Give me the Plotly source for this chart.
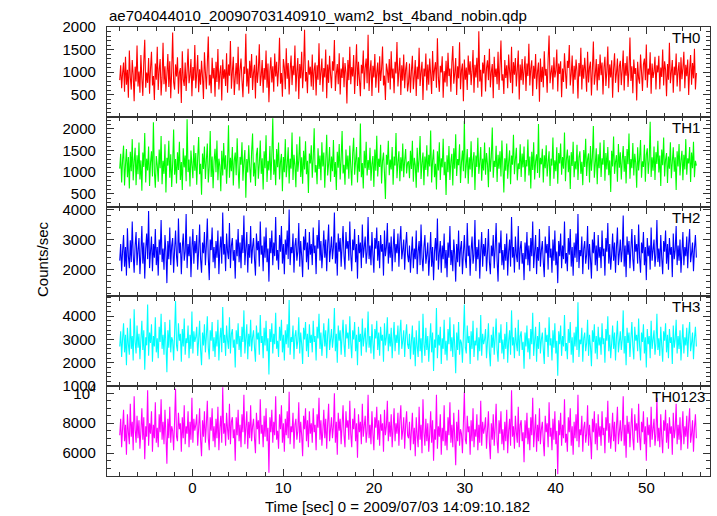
import numpy as np
import plotly.graph_objects as go
from plotly.subplots import make_subplots

TITLE = "ae704044010_20090703140910_wam2_bst_4band_nobin.qdp"
X_TITLE = "Time [sec] 0 = 2009/07/03 14:09:10.182"
Y_TITLE = "Counts/sec"
T_START = -8.0
T_END = 55.5

band_names = ["TH0", "TH1", "TH2", "TH3", "TH0123"]

th0 = [
    820, 1150, 640, 980, 1210, 560, 1340, 720, 1050, 430, 1480, 880, 610, 1270, 940, 350, 1120, 790, 1590, 680,
    1010, 540, 1380, 860, 470, 1230, 1720, 650, 990, 760, 1310, 520, 1080, 1450, 700, 910, 380, 1190, 830, 1560,
    600, 1040, 1290, 480, 870, 1650, 730, 1130, 560, 950, 1400, 670, 1240, 420, 1020, 1880, 780, 610, 1170, 900,
    1330, 520, 990, 1090, 310, 1460, 840, 690, 1210, 580, 1030, 1520, 750, 930, 1290, 460, 1110, 810, 1600, 640,
    970, 1380, 550, 1060, 720, 1250, 890, 400, 1440, 1000, 620, 1180, 1790, 700, 940, 530, 1320, 860, 1090, 450,
    1230, 780, 1510, 610, 980, 1150, 370, 1280, 850, 1060, 690, 1420, 540, 1170, 920, 1690, 630, 1010, 1340, 490,
    880, 1200, 730, 1560, 590, 1040, 1300, 820, 440, 1120, 960, 1850, 680, 1080, 520, 1250, 870, 1400, 600, 990,
    1160, 410, 1370, 760, 1030, 1620, 690, 920, 1270, 540, 1090, 830, 1480, 650, 1190, 330, 1010, 1330, 770, 1130,
    560, 1410, 900, 1230, 680, 1060, 1760, 740, 980, 450, 1290, 1100, 620, 1530, 850, 1200, 500, 1040, 1370, 710,
    1140, 930, 1590, 570, 1020, 1310, 400, 1180, 860, 1450, 640, 1070, 1940, 790, 1000, 530, 1260, 940, 1120, 680,
    1390, 600, 1050, 1210, 480, 1150, 830, 1640, 710, 990, 1300, 560, 1090, 880, 1500, 420, 1170, 760, 1360, 940,
    640, 1240, 1030, 1710, 580, 950, 1180, 730, 1420, 500, 1080, 870, 1330, 660, 1200, 990, 300, 1270, 820, 1560,
    730, 1110, 900, 1380, 510, 1050, 1620, 690, 1230, 840, 460, 1160, 970, 1480, 620, 1090, 1300, 750, 1830, 580,
    1020, 1260, 470, 1140, 880, 1400, 650, 990, 1210, 540, 1350, 800, 1070, 1570, 700, 920, 380, 1190, 1040, 760,
    1290, 610, 1460, 860, 1080, 530, 1230, 970, 1670, 680, 1010, 1320, 490, 1150, 810, 1390, 640, 1060, 1220, 570,
    760, 1190, 540, 1030, 1360, 620, 910, 1270, 470, 1120, 840, 1540, 690, 1000, 1230, 380, 1080, 900, 1410, 590,
    1170, 720, 1300, 950, 510, 1470, 800, 1060, 1220, 650, 1750, 870, 560, 1140, 990, 1350, 430, 1020, 770, 1250,
    680, 1430, 910, 1080, 560, 1200, 1580, 740, 980, 1310, 490, 1130, 860, 1660, 620, 1040, 1190, 350, 1280, 830,
    1100, 600, 1370, 940, 1240, 710, 1020, 1490, 540, 1160, 880, 1320, 650, 1910, 790, 1050, 450, 1210, 970, 1380,
    570, 1090, 1260, 820, 1520, 660, 1000, 1180, 420, 1340, 890, 1080, 730, 1450, 600, 1130, 1700, 810, 950, 510,
    1270, 870, 1150, 640, 1390, 1010, 760, 1560, 530, 1220, 940, 1310, 680, 1060, 1480, 390, 1170, 820, 1290, 720,
    1040, 1350, 580, 1190, 910, 1630, 700, 1080, 1260, 470, 1140, 850, 1400, 620, 1010, 1210, 340, 1300, 780, 1120,
    660, 1460, 920, 1070, 540, 1280, 1810, 750, 990, 1150, 610, 1330, 880, 1030, 1500, 570, 1190, 960, 1240, 440,
    1080, 780, 1420, 1000, 630, 1250, 1090, 1600, 700, 960, 1370, 520, 1140, 830, 1280, 1020, 410, 1200, 900, 1540,
    610, 1160, 850, 1320, 990, 560, 1450, 770, 1110, 1230, 480, 1060, 1680, 720, 940, 1290, 590, 1180, 820, 1390,
    930, 1210, 500, 1100, 1340, 690, 1020, 1570, 640, 1170, 880, 1260, 430, 1070, 1420, 760, 980, 1300, 550, 1130,
    1250, 710, 1060, 1480, 590, 1200, 920, 1350, 670, 1040, 1770, 800, 1130, 530, 1280, 960, 1090, 370, 1230, 860,
    740, 1390, 1010, 580, 1170, 1300, 820, 1610, 650, 1080, 940, 1440, 520, 1190, 870, 1020, 1340, 610, 1150, 990,
    1360, 620, 1100, 890, 1500, 700, 1240, 1050, 460, 1180, 830, 1650, 750, 1000, 1270, 540, 1120, 930, 1410, 680,
    1030, 1220, 570, 1330, 840, 1090, 1450, 640, 1160, 910, 1280, 490, 1070, 1380, 720, 1200, 860, 1520, 610, 980,
]

th1 = [
    1080, 1420, 760, 1290, 1610, 690, 1180, 1530, 880, 1350, 620, 1470, 1020, 1760, 810, 1240, 1560, 700, 1390, 950,
    1680, 830, 1270, 570, 1450, 1120, 1900, 760, 1310, 1040, 1590, 680, 1220, 1480, 900, 2150, 1010, 640, 1370, 1160,
    780, 1520, 1090, 1830, 720, 1260, 960, 1640, 530, 1330, 1150, 1720, 870, 1410, 660, 1200, 1980, 940, 1300, 740,
    1460, 1050, 1700, 820, 1230, 590, 1550, 1110, 1380, 790, 2220, 1000, 1290, 670, 1500, 1170, 860, 1620, 1030, 1440,
    710, 1340, 1810, 950, 1190, 480, 1430, 1070, 1590, 840, 1280, 1660, 760, 1120, 1950, 890, 1360, 630, 1250, 1540,
    1000, 1730, 810, 1310, 1140, 560, 1490, 920, 1670, 1060, 1390, 730, 1210, 2080, 870, 1330, 1020, 1580, 690, 1270,
    1450, 930, 1780, 1080, 620, 1350, 1170, 1690, 800, 1240, 1510, 410, 1300, 990, 1620, 1130, 760, 1470, 1890, 900,
    1220, 680, 1400, 1560, 850, 1190, 1730, 960, 1320, 600, 1480, 1090, 1850, 770, 1260, 1040, 1600, 820, 1370, 2240,
    940, 1290, 700, 1530, 1110, 1680, 830, 1230, 1420, 560, 1350, 1000, 1760, 880, 1180, 1570, 740, 1310, 1080, 1910,
    820, 1400, 1150, 650, 1640, 1010, 1280, 1820, 890, 1340, 730, 1490, 1060, 1710, 950, 1260, 520, 1430, 1200, 1620,
    870, 1320, 2010, 990, 1160, 720, 1550, 1070, 1380, 810, 1690, 1130, 1450, 640, 1270, 1860, 920, 1190, 1580, 780,
    1360, 1020, 1740, 890, 1230, 590, 1470, 1100, 1650, 830, 1300, 1950, 970, 1170, 710, 1520, 1060, 1380, 850, 1610,
    1140, 690, 1430, 1790, 940, 1250, 1580, 760, 1340, 1010, 2120, 880, 1210, 620, 1490, 1090, 1700, 920, 1280, 1050,
    1560, 800, 1190, 1370, 660, 1520, 1030, 1840, 900, 1310, 1120, 1630, 740, 1260, 1450, 980, 380, 1400, 1170, 1720,
    930, 1290, 1060, 1580, 710, 1360, 1150, 1900, 860, 1230, 1480, 790, 1340, 1020, 1660, 880, 1270, 1530, 970, 1210,
    1250, 860, 1490, 1070, 1720, 780, 1330, 1160, 640, 1560, 990, 1280, 1830, 840, 1210, 1450, 700, 1360, 1050, 1620,
    900, 1400, 1130, 1960, 760, 1270, 1520, 880, 1190, 600, 1480, 1040, 1690, 820, 1320, 1110, 1770, 930, 1240, 470,
    1390, 1000, 1600, 820, 1250, 1420, 690, 1550, 1080, 1870, 910, 1300, 1160, 1640, 750, 1230, 1500, 1020, 2180, 860,
    1170, 1530, 730, 1340, 1060, 1710, 880, 1270, 1460, 590, 1380, 1120, 1790, 960, 1220, 1580, 800, 1310, 1040, 1680,
    940, 1440, 1190, 650, 1570, 1010, 1350, 2030, 870, 1260, 1120, 1610, 770, 1400, 1080, 1480, 900, 1730, 1150, 530,
    1320, 1030, 1660, 850, 1240, 1500, 720, 1380, 1170, 1860, 950, 1290, 1560, 810, 1200, 1070, 1640, 890, 1430, 1110,
    1590, 780, 1280, 1130, 1750, 920, 1360, 620, 1470, 1050, 1690, 830, 1250, 1410, 980, 2110, 870, 1330, 1180, 1540,
    760, 1390, 1090, 1620, 900, 1230, 1480, 680, 1310, 1150, 1800, 850, 1270, 1020, 1570, 730, 1440, 1200, 1660, 940,
    1350, 1080, 1910, 790, 1290, 1520, 1000, 1380, 610, 1460, 1140, 1700, 880, 1250, 1060, 1630, 820, 1340, 1480, 960,
    1240, 700, 1510, 1120, 1770, 910, 1300, 1430, 760, 1600, 1030, 1350, 2060, 870, 1190, 1550, 720, 1410, 1090, 1680,
    890, 1320, 1170, 1740, 800, 1440, 1060, 1580, 930, 1270, 540, 1490, 1130, 1820, 960, 1230, 1390, 780, 1650, 1100,
    1460, 830, 1280, 1600, 1010, 1370, 740, 1530, 1180, 1890, 850, 1300, 1090, 1670, 920, 1420, 1210, 640, 1570, 1040,
    1310, 1740, 870, 1250, 1120, 1630, 780, 1400, 1550, 960, 1270, 2160, 890, 1340, 1030, 1590, 820, 1460, 1190, 1720,
    990, 1380, 680, 1520, 1160, 1800, 900, 1290, 1440, 750, 1360, 1080, 1690, 860, 1230, 1570, 1010, 1340, 590, 1480,
    1130, 1650, 920, 1270, 1490, 810, 1400, 1060, 1760, 940, 1320, 1200, 1580, 770, 1450, 1090, 1700, 880, 1260, 1150,
]

th2 = [
    2300, 2850, 1950, 2620, 3150, 2100, 2750, 1800, 3380, 2450, 2050, 2980, 2250, 3600, 2500, 1900, 2800, 3250, 2150, 2650,
    3050, 1850, 2550, 3450, 2200, 2900, 1700, 2700, 3200, 2350, 3950, 2050, 2600, 3100, 1950, 2850, 2400, 3350, 2150, 2750,
    1800, 3000, 2500, 3650, 2250, 2700, 2000, 3150, 2600, 1550, 2950, 2350, 3400, 2150, 2800, 3050, 1900, 2650, 3300, 2450,
    2100, 3700, 2550, 2900, 1850, 2750, 3200, 2300, 2600, 3850, 2050, 2850, 2450, 3100, 1750, 2700, 3350, 2200, 2950, 2550,
    3150, 2000, 2650, 3500, 2350, 1900, 2900, 2550, 3250, 2150, 2800, 3700, 2400, 1650, 3000, 2650, 3400, 2250, 2750, 2050,
    2950, 2400, 3300, 1850, 2700, 3100, 2200, 3900, 2500, 2850, 1950, 3200, 2600, 2350, 3550, 2050, 2800, 3050, 2300, 2650,
    1700, 3000, 2450, 3350, 2250, 2900, 2050, 3150, 2550, 3800, 2150, 2700, 3250, 1900, 2850, 2400, 3450, 2200, 2750, 3050,
    2350, 1800, 3200, 2650, 2950, 2100, 3600, 2500, 2800, 1950, 3100, 2400, 3400, 2250, 2700, 1600, 3050, 2550, 3300, 2150,
    2900, 2450, 3750, 2300, 2650, 2000, 3150, 2600, 3450, 2200, 2850, 1850, 3000, 2500, 3300, 2350, 4000, 2150, 2750, 2550,
    3200, 1900, 2800, 3050, 2300, 2600, 3550, 2100, 2950, 2450, 1750, 3100, 2650, 3350, 2250, 2900, 2000, 3250, 2500, 2850,
    2150, 3400, 2550, 2800, 1850, 3150, 2700, 3650, 2300, 2950, 2050, 2600, 3300, 2400, 3000, 1950, 2850, 3500, 2250, 2650,
    3100, 2350, 2750, 3900, 2200, 2900, 1800, 3200, 2600, 3050, 2100, 2800, 3450, 2450, 2000, 3250, 2700, 2950, 2300, 3600,
    2500, 1950, 3000, 2650, 3350, 2250, 2850, 1700, 3150, 2550, 2900, 2050, 3500, 2400, 2750, 3100, 2200, 2600, 3750, 2350,
    2800, 2150, 3250, 2500, 1900, 3050, 2700, 3400, 2300, 2950, 2050, 3150, 2600, 2850, 1800, 3300, 2450, 2750, 3550, 2200,
    2900, 2400, 3100, 1950, 2700, 3350, 2250, 2850, 2550, 3200, 2100, 2950, 3450, 2350, 2650, 3000, 2000, 2800, 3250, 2500,
    2250, 2800, 1900, 2550, 3100, 2050, 2700, 2350, 3300, 1850, 2600, 2950, 2150, 3500, 2400, 1950, 2750, 3150, 2200, 2500,
    2900, 1800, 2450, 3250, 2100, 2750, 1650, 2600, 3050, 2300, 3700, 2000, 2550, 2950, 1900, 2800, 2350, 3200, 2050, 2650,
    1750, 2900, 2400, 3450, 2150, 2650, 1950, 3000, 2500, 1600, 2850, 2250, 3300, 2100, 2700, 2950, 1850, 2550, 3150, 2350,
    2050, 3550, 2450, 2800, 1800, 2650, 3100, 2200, 2500, 3650, 1950, 2750, 2350, 3000, 1700, 2600, 3250, 2100, 2850, 2450,
    3050, 1950, 2550, 3350, 2250, 1850, 2800, 2450, 3150, 2050, 2700, 3550, 2300, 1600, 2900, 2550, 3300, 2150, 2650, 2000,
    2850, 2300, 3200, 1800, 2600, 3000, 2100, 3750, 2400, 2750, 1900, 3100, 2500, 2250, 3450, 2000, 2700, 2950, 2200, 2550,
    1650, 2900, 2350, 3250, 2150, 2800, 1950, 3050, 2450, 3600, 2050, 2600, 3150, 1850, 2750, 2300, 3350, 2100, 2650, 2950,
    2250, 1750, 3100, 2550, 2850, 2000, 3450, 2400, 2700, 1900, 3000, 2300, 3300, 2150, 2600, 1550, 2950, 2450, 3200, 2050,
    2800, 2350, 3600, 2200, 2550, 1950, 3050, 2500, 3350, 2100, 2750, 1800, 2900, 2400, 3200, 2250, 3850, 2050, 2650, 2450,
    3100, 1850, 2700, 2950, 2200, 2500, 3450, 2000, 2850, 2350, 1700, 3000, 2550, 3250, 2150, 2800, 1950, 3150, 2400, 2750,
    2050, 3300, 2450, 2700, 1800, 3050, 2600, 3550, 2200, 2850, 2000, 2500, 3200, 2300, 2900, 1900, 2750, 3400, 2150, 2550,
    3000, 2250, 2650, 3800, 2100, 2800, 1750, 3100, 2500, 2950, 2050, 2700, 3350, 2350, 1950, 3150, 2600, 2850, 2200, 3500,
    2400, 1900, 2900, 2550, 3250, 2150, 2750, 1650, 3050, 2450, 2800, 2000, 3400, 2300, 2650, 3000, 2100, 2500, 3650, 2250,
    2700, 2100, 3150, 2400, 1850, 2950, 2600, 3300, 2200, 2850, 2000, 3050, 2500, 2750, 1750, 3200, 2350, 2650, 3450, 2150,
    2800, 2300, 3000, 1900, 2600, 3250, 2150, 2750, 2450, 3100, 2050, 2850, 3350, 2250, 2550, 2900, 1950, 2700, 3150, 2400,
]

th3 = [
    2700, 3350, 2250, 3050, 3700, 2450, 3200, 1900, 3500, 2800, 2350, 3900, 2600, 3150, 2100, 4300, 2900, 2400, 3600, 2650,
    3250, 2150, 3000, 3800, 2550, 3400, 1700, 3100, 2750, 4500, 2300, 3300, 2850, 3650, 2050, 3150, 2700, 3950, 2450, 3050,
    2200, 3550, 2900, 4100, 2600, 3200, 2350, 3750, 2800, 1600, 3400, 2650, 3850, 2450, 3100, 2950, 2100, 3300, 4650, 2750,
    2500, 3700, 2950, 3250, 2050, 3450, 2700, 3900, 2350, 3050, 2850, 3600, 2200, 3200, 2600, 4200, 2400, 3350, 2900, 3100,
    3550, 2300, 3000, 3800, 2550, 1900, 3300, 2750, 3650, 2450, 3150, 4000, 2650, 2150, 3400, 2950, 3750, 2500, 3100, 2250,
    3350, 2700, 3850, 2100, 3050, 3500, 2450, 4400, 2850, 3200, 2300, 3600, 2950, 2600, 3950, 2400, 3250, 3450, 2650, 3000,
    1800, 3400, 2800, 3700, 2550, 3150, 2250, 3550, 2900, 4250, 2400, 3050, 3650, 2150, 3250, 2700, 3850, 2500, 3100, 3400,
    2650, 2050, 3600, 3000, 3300, 2350, 4050, 2850, 3150, 2200, 3500, 2750, 3800, 2500, 3050, 1500, 3450, 2900, 3700, 2400,
    3250, 2800, 4150, 2600, 2950, 2250, 3550, 2950, 3850, 2450, 3200, 2100, 3400, 2800, 3650, 2650, 4700, 2350, 3100, 2900,
    3600, 2150, 3150, 3400, 2600, 2950, 3950, 2400, 3300, 2800, 1950, 3500, 3000, 3750, 2500, 3250, 2250, 3650, 2850, 3200,
    2450, 3800, 2900, 3150, 2100, 3550, 3050, 4100, 2600, 3300, 2300, 2950, 3700, 2700, 3400, 2200, 3200, 3900, 2550, 3000,
    3450, 2650, 3100, 4350, 2500, 3250, 2000, 3600, 2950, 3400, 2350, 3150, 3850, 2800, 2250, 3650, 3050, 3300, 2600, 4000,
    2850, 2200, 3400, 3000, 3750, 2500, 3200, 1900, 3550, 2900, 3250, 2300, 3900, 2700, 3100, 3500, 2450, 2950, 4200, 2650,
    3150, 2400, 3650, 2850, 2150, 3450, 3050, 3800, 2550, 3300, 2300, 3550, 2950, 3200, 2050, 3700, 2750, 3100, 3950, 2500,
    3250, 2700, 3500, 2200, 3050, 3750, 2500, 3200, 2850, 3600, 2350, 3300, 3850, 2600, 2950, 3400, 2250, 3150, 3650, 2800,
    2600, 3250, 2150, 2950, 3600, 2350, 3100, 1850, 3400, 2700, 2250, 3800, 2500, 3050, 2000, 4100, 2800, 2300, 3500, 2550,
    3150, 2050, 2900, 3700, 2450, 3300, 1650, 3000, 2650, 4350, 2200, 3200, 2750, 3550, 1950, 3050, 2600, 3850, 2350, 2950,
    2100, 3450, 2800, 3950, 2500, 3100, 2250, 3650, 2700, 1550, 3300, 2550, 3750, 2350, 3000, 2850, 2000, 3200, 4500, 2650,
    2400, 3600, 2850, 3150, 1950, 3350, 2600, 3800, 2250, 2950, 2750, 3500, 2100, 3100, 2500, 4050, 2300, 3250, 2800, 3000,
    3450, 2200, 2900, 3700, 2450, 1850, 3200, 2650, 3550, 2350, 3050, 3900, 2550, 2050, 3300, 2850, 3650, 2400, 3000, 2150,
    3250, 2600, 3750, 2000, 2950, 3400, 2350, 4250, 2750, 3100, 2200, 3500, 2850, 2500, 3850, 2300, 3150, 3350, 2550, 2900,
    1750, 3300, 2700, 3600, 2450, 3050, 2150, 3450, 2800, 4150, 2300, 2950, 3550, 2050, 3150, 2600, 3750, 2400, 3000, 3300,
    2550, 1950, 3500, 2900, 3200, 2250, 3950, 2750, 3050, 2100, 3400, 2650, 3700, 2400, 2950, 1450, 3350, 2800, 3600, 2300,
    3150, 2700, 4050, 2500, 2850, 2150, 3450, 2850, 3750, 2350, 3100, 2000, 3300, 2700, 3550, 2550, 4600, 2250, 3000, 2800,
    3500, 2050, 3050, 3300, 2500, 2850, 3850, 2300, 3200, 2700, 1850, 3400, 2900, 3650, 2400, 3150, 2150, 3550, 2750, 3100,
    2350, 3700, 2800, 3050, 2000, 3450, 2950, 4000, 2500, 3200, 2200, 2850, 3600, 2600, 3300, 2100, 3100, 3800, 2450, 2900,
    3350, 2550, 3000, 4250, 2400, 3150, 1900, 3500, 2850, 3300, 2250, 3050, 3750, 2700, 2150, 3550, 2950, 3200, 2500, 3900,
    2750, 2100, 3300, 2900, 3650, 2400, 3100, 1800, 3450, 2800, 3150, 2200, 3800, 2600, 3000, 3400, 2350, 2850, 4100, 2550,
    3050, 2300, 3550, 2750, 2050, 3350, 2950, 3700, 2450, 3200, 2200, 3450, 2850, 3100, 1950, 3600, 2650, 3000, 3850, 2400,
    3150, 2600, 3400, 2100, 2950, 3650, 2400, 3100, 2750, 3500, 2250, 3200, 3750, 2500, 2850, 3300, 2150, 3050, 3550, 2700,
]

th0123 = [
    7200, 8300, 6400, 7700, 8900, 6800, 7900, 5900, 8600, 7400, 6600, 9300, 7100, 8100, 6200, 9800, 7600, 6700, 8500, 7000,
    8200, 6300, 7500, 9000, 6900, 8400, 5600, 7800, 7100, 10200, 6500, 8000, 7300, 8800, 6100, 7900, 7000, 9400, 6700, 7700,
    6400, 8600, 7400, 9600, 6900, 8100, 6600, 8900, 7200, 5300, 8300, 7000, 9100, 6700, 7800, 7500, 6200, 8200, 10300, 7100,
    6800, 8700, 7600, 8000, 6100, 8400, 7000, 9200, 6600, 7800, 7300, 8800, 6400, 8100, 6900, 9700, 6700, 8300, 7500, 7900,
    8600, 6500, 7700, 9000, 6900, 5800, 8200, 7100, 8800, 6700, 7900, 9500, 7000, 6200, 8400, 7500, 9000, 6800, 7800, 6400,
    8300, 7000, 9100, 6200, 7700, 8500, 6700, 10400, 7300, 8000, 6500, 8700, 7600, 6900, 9300, 6600, 8100, 8400, 7000, 7600,
    5500, 8400, 7200, 8900, 6800, 7900, 6400, 8600, 7400, 9900, 6600, 7700, 8800, 6300, 8100, 7000, 9200, 6800, 7800, 8300,
    7000, 6000, 8700, 7600, 8200, 6600, 9600, 7300, 7900, 6400, 8500, 7100, 9000, 6800, 7700, 4700, 8400, 7400, 8900, 6700,
    8100, 7200, 9800, 6900, 7500, 6300, 8600, 7600, 9200, 6700, 8000, 6100, 8300, 7200, 8800, 7000, 10100, 6600, 7800, 7400,
    8700, 6300, 7900, 8300, 6900, 7500, 9400, 6700, 8100, 7200, 5800, 8500, 7600, 9000, 6800, 8200, 6400, 8800, 7300, 8000,
    6700, 9000, 7400, 7900, 6200, 8600, 7700, 9700, 6900, 8200, 6500, 7500, 8900, 7000, 8300, 6300, 8000, 9300, 6800, 7600,
    8400, 7000, 7800, 10000, 6700, 8100, 5900, 8700, 7500, 8300, 6600, 7900, 9200, 7200, 6400, 8800, 7700, 8200, 6900, 9500,
    7300, 6400, 8300, 7600, 9000, 6800, 8000, 5700, 8600, 7400, 8100, 6600, 9300, 7100, 7800, 8500, 6700, 7500, 9900, 7000,
    7900, 6600, 8800, 7300, 6200, 8400, 7700, 9100, 6900, 8200, 6500, 8600, 7500, 8000, 6100, 8900, 7200, 7800, 9500, 6800,
    8100, 7100, 8600, 6400, 7700, 9000, 6800, 8000, 7300, 8700, 6500, 8200, 9200, 6900, 7500, 8400, 6300, 7900, 8800, 7200,
    7000, 8100, 6200, 7500, 8700, 6600, 7700, 5800, 8400, 7200, 6400, 9100, 6900, 7900, 6000, 9600, 7400, 6500, 8300, 6800,
    8000, 6100, 7300, 8800, 6700, 8200, 5500, 7600, 6900, 9900, 6300, 7800, 7100, 8600, 5900, 7700, 6800, 9200, 6500, 7500,
    6200, 8400, 7200, 9400, 6700, 7900, 6400, 8700, 7000, 5200, 8100, 6800, 8900, 6500, 7600, 7300, 6000, 8000, 10100, 6900,
    6600, 8500, 7400, 7800, 5900, 8200, 6800, 9000, 6400, 7600, 7100, 8600, 6200, 7900, 6700, 9500, 6500, 8100, 7300, 7700,
    8400, 6300, 7500, 8800, 6700, 5600, 8000, 6900, 8600, 6500, 7700, 9300, 6800, 6000, 8200, 7300, 8800, 6600, 7600, 6200,
    8100, 6800, 8900, 6000, 7500, 8300, 6500, 10200, 7100, 7800, 6300, 8500, 7400, 6700, 9100, 6400, 7900, 8200, 6800, 7400,
    5400, 8200, 7000, 8700, 6600, 7700, 6200, 8400, 7200, 9700, 6400, 7500, 8600, 6100, 7900, 6800, 9000, 6600, 7600, 8100,
    6800, 5800, 8500, 7400, 8000, 6400, 9400, 7100, 7700, 6200, 8300, 6900, 8800, 6600, 7500, 4600, 8200, 7200, 8700, 6500,
    7900, 7000, 9600, 6700, 7300, 6100, 8400, 7400, 9000, 6500, 7800, 5900, 8100, 7000, 8600, 6800, 9900, 6400, 7600, 7200,
    8500, 6100, 7700, 8100, 6700, 7300, 9200, 6500, 7900, 7000, 5600, 8300, 7400, 8800, 6600, 8000, 6200, 8600, 7100, 7800,
    6500, 8800, 7200, 7700, 6000, 8400, 7500, 9500, 6700, 8000, 6300, 7300, 8700, 6800, 8100, 6100, 7800, 9100, 6600, 7400,
    8200, 6800, 7600, 9800, 6500, 7900, 5700, 8500, 7300, 8100, 6400, 7700, 9000, 7000, 6200, 8600, 7500, 8000, 6700, 9300,
    7100, 6200, 8100, 7400, 8800, 6600, 7800, 5500, 8400, 7200, 7900, 6400, 9100, 6900, 7600, 8300, 6500, 7300, 9700, 6800,
    7700, 6400, 8600, 7100, 6000, 8200, 7500, 8900, 6700, 8000, 6300, 8400, 7300, 7800, 5900, 8700, 7000, 7600, 9300, 6600,
    7900, 6900, 8400, 6200, 7500, 8800, 6600, 7800, 7100, 8500, 6300, 8000, 9000, 6700, 7300, 8200, 6100, 7700, 8600, 7000,
]

series = [th0, th1, th2, th3, th0123]
colors = ["#ff0000", "#00ff00", "#0000ff", "#00ffff", "#ff00ff"]
y_ranges = [[5, 2002], [205, 2275], [1107, 4100], [998, 4850], [4480, 10470]]
y_dticks = [500, 500, 1000, 1000, 2000]
y_minor = [100, 100, 200, 200, 500]

t = np.linspace(T_START, T_END, len(th0))

fig = make_subplots(rows=5, cols=1, shared_xaxes=False, vertical_spacing=0)

FONT = "Liberation Sans, Arial, Helvetica, sans-serif"
AX = "#333333"

for i, (vals, col) in enumerate(zip(series, colors)):
    fig.add_trace(
        go.Scatter(x=t, y=vals, mode="lines",
                   line=dict(color=col, width=1.1, simplify=False),
                   showlegend=False, hoverinfo="skip"),
        row=i + 1, col=1,
    )

for i in range(5):
    r = i + 1
    fig.update_xaxes(
        range=[-9.4, 57.0], showgrid=False, zeroline=False,
        showline=True, linecolor=AX, linewidth=1.2, mirror="allticks",
        ticks="inside", ticklen=7, tickwidth=1.2, tickcolor=AX,
        tick0=0, dtick=10,
        minor=dict(ticks="inside", ticklen=4, tickwidth=1, tickcolor=AX, tick0=0, dtick=2),
        showticklabels=(r == 5), ticklabelstandoff=-2,
        tickfont=dict(family=FONT, size=15, color="black"),
        row=r, col=1,
    )
    yk = dict(
        range=y_ranges[i], showgrid=False, zeroline=False,
        showline=True, linecolor=AX, linewidth=1.2, mirror="allticks",
        ticks="inside", ticklen=7, tickwidth=1.2, tickcolor=AX,
        minor=dict(ticks="inside", ticklen=4, tickwidth=1, tickcolor=AX, tick0=0, dtick=y_minor[i]),
        ticklabelstandoff=7,
        tickfont=dict(family=FONT, size=15, color="black"),
    )
    if i == 4:
        yk.update(tickmode="array", tickvals=[6000, 8000, 10000],
                  ticktext=["6000", "8000", "10<sup>4</sup>"])
    else:
        yk.update(tick0=0, dtick=y_dticks[i])
    fig.update_yaxes(row=r, col=1, **yk)

annotations = [
    dict(text=TITLE, xref="paper", yref="paper", x=0, y=1, xanchor="left", yanchor="bottom",
         yshift=1, showarrow=False, font=dict(family=FONT, size=15, color="black")),
    dict(text=X_TITLE, xref="paper", yref="paper", x=0.4818, y=-0.068, xanchor="center", yanchor="middle",
         showarrow=False, font=dict(family=FONT, size=15, color="black")),
    dict(text=Y_TITLE, xref="paper", yref="paper", x=-0.108, y=0.483, xanchor="center", yanchor="middle",
         textangle=-90, showarrow=False, font=dict(family=FONT, size=15, color="black")),
]
for i, name in enumerate(band_names):
    top = 1 - i / 5
    annotations.append(dict(
        text=name, xref="paper", yref="paper", x=1, y=top, xanchor="right", yanchor="top",
        xshift=(-3 if name == "TH0123" else -8), yshift=0, showarrow=False,
        font=dict(family=FONT, size=15, color="black")))

fig.update_layout(
    width=717, height=516,
    margin=dict(l=107, r=7, t=27, b=40),
    plot_bgcolor="white", paper_bgcolor="white",
    annotations=annotations,
    font=dict(family=FONT, size=15, color="black"),
)

fig.write_html(
    "out.html",
    config={"displayModeBar": False},
    post_script="document.body.style.margin='0';document.body.style.padding='0';",
)
